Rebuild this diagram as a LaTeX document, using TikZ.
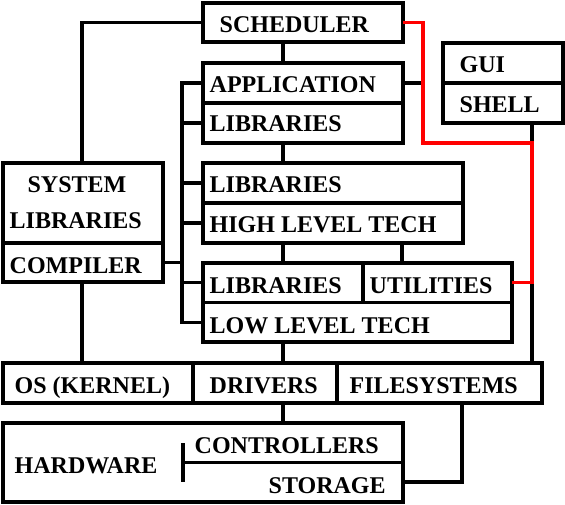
\documentclass[tikz,border=0pt]{standalone}
\usepackage{fontspec}
\setmainfont{Liberation Serif}
\begin{document}
\begin{tikzpicture}[x=1pt,y=-1pt,line width=3.4pt,
  box/.style={draw,rectangle,inner sep=0pt,outer sep=0pt,anchor=north west},
  lbl/.style={anchor=base west,inner sep=0pt,font=\fontsize{24}{28}\selectfont\bfseries},
  wire/.style={draw=black,line width=3.4pt},
  redwire/.style={draw=red,line width=3.4pt}]
\useasboundingbox (0,0) rectangle (565,505);
% boxes
\node[box,minimum width=200pt,minimum height=39pt] (sched) at (203,3) {};
\node[box,minimum width=200pt,minimum height=80pt] (app) at (203,63) {};
\node[box,minimum width=260pt,minimum height=80pt] (high) at (203,163) {};
\node[box,minimum width=309pt,minimum height=79pt] (low) at (203,263) {};
\node[box,minimum width=120pt,minimum height=80pt] (gui) at (443,43) {};
\node[box,minimum width=160pt,minimum height=119pt] (sys) at (3,163) {};
\node[box,minimum width=539pt,minimum height=40pt] (base) at (3,363) {};
\node[box,minimum width=400pt,minimum height=79pt] (hw) at (3,423) {};
% dividers
\draw[wire] (app.west) -- (app.east);
\draw[wire] (high.west) -- (high.east);
\draw[wire] (low.west) -- (low.east);
\draw[wire] (low.north -| 363,0) -- (low.center -| 363,0);
\draw[wire] (gui.west) -- (gui.east);
\draw[wire] (sys.west |- 0,243) -- (sys.east |- 0,243);
\draw[wire] (base.north -| 193,0) -- (base.south -| 193,0);
\draw[wire] (base.north -| 337,0) -- (base.south -| 337,0);
\draw[wire] (183,443) -- (183,482);
\draw[wire] (hw.east -| 183,0) -- (hw.east);
% labels
\node[lbl] (tsched) at (218,33) {SCHEDULER};
\node[lbl] (tapp) at (208,93) {APPLICATION};
\node[lbl] (tlib1) at (208,132) {LIBRARIES};
\node[lbl] (tlib2) at (208,193) {LIBRARIES};
\node[lbl] (thigh) at (208,233) {HIGH LEVEL TECH};
\node[lbl] (tlib3) at (208,293) {LIBRARIES};
\node[lbl] (tutil) at (368,293) {UTILITIES};
\node[lbl] (tlow) at (208,333) {LOW LEVEL TECH};
\node[lbl] (tgui) at (458,73) {GUI};
\node[lbl] (tshell) at (458,113) {SHELL};
\node[lbl,anchor=base] (tsys) at (77,193) {SYSTEM};
\node[lbl] (tlibs) at (8,229) {LIBRARIES};
\node[lbl] (tcomp) at (8,273) {COMPILER};
\node[lbl] (tos) at (13,393) {OS (KERNEL)};
\node[lbl] (tdrv) at (208,393) {DRIVERS};
\node[lbl] (tfs) at (348,393) {FILESYSTEMS};
\node[lbl] (thw) at (13,473) {HARDWARE};
\node[lbl] (tctl) at (193,453) {CONTROLLERS};
\node[lbl] (tsto) at (267,493) {STORAGE};
% connectors
\draw[wire] (sched.west) -| (sys.north -| 82,0);
\draw[wire] (sched.south -| 283,0) -- (app.north -| 283,0);
\draw[wire] (app.south -| 283,0) -- (high.north -| 283,0);
\draw[wire] (high.south -| 283,0) -- (low.north -| 283,0);
\draw[wire] (high.south -| 402,0) -- (low.north -| 402,0);
\draw[wire] (low.south -| 283,0) -- (base.north -| 283,0);
\draw[wire] (sys.south -| 82,0) -- (base.north -| 82,0);
\draw[wire] (base.south -| 283,0) -- (hw.north -| 283,0);
\draw[wire] (base.south -| 462,0) |- (hw.east |- 0,482);
\coordinate (busT) at (182,83);
\coordinate (busB) at (182,322.5);
\draw[wire] (app.west |- busT) -- (busT) -- (busB) -- (low.west |- busB);
\draw[wire] (busT |- 0,123) -- (app.west |- 0,123);
\draw[wire] (busT |- 0,183) -- (high.west |- 0,183);
\draw[wire] (busT |- 0,223) -- (high.west |- 0,223);
\draw[wire] (busT |- 0,282.5) -- (low.west |- 0,282.5);
\draw[wire] (sys.east |- 0,262.5) -- (busT |- 0,262.5);
\draw[wire] (app.east |- busT) -- (423,83);
\draw[wire] (gui.south -| 532,0) -- (532,143);
\coordinate (rc) at (532,282.5);
\draw[wire] (rc) -- (base.north -| rc);
\draw[redwire] (sched.east) -- (423,22.5) -- (423,143) -- (532,143) -- (rc) -- (low.east |- rc);
\end{tikzpicture}
\end{document}
